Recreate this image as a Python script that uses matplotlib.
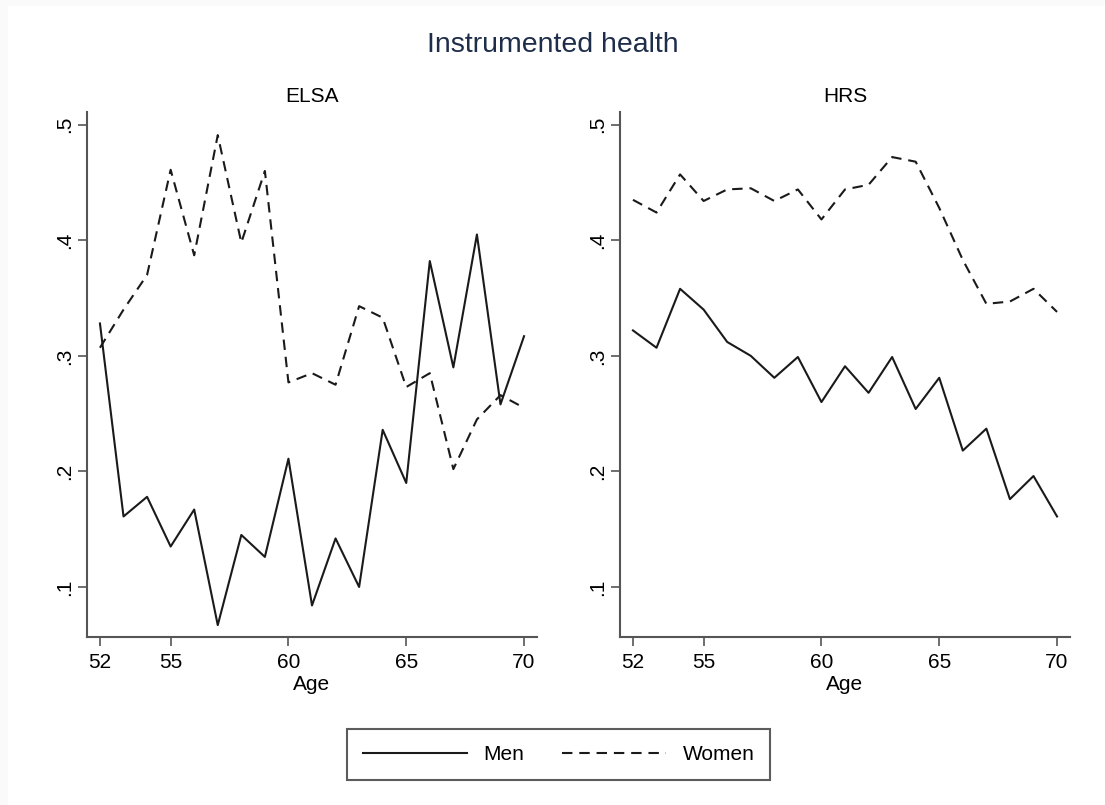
import matplotlib.pyplot as plt
from matplotlib.lines import Line2D
from matplotlib.patches import Rectangle

plt.rcParams['font.family'] = ['Liberation Sans', 'DejaVu Sans']

ages = list(range(52, 71))

elsa_men = [0.328, 0.161, 0.178, 0.135, 0.167, 0.067, 0.145, 0.126, 0.211, 0.084,
            0.142, 0.100, 0.236, 0.190, 0.382, 0.290, 0.405, 0.258, 0.317]
elsa_women = [0.307, 0.340, 0.370, 0.461, 0.387, 0.491, 0.398, 0.460, 0.277, 0.285,
              0.275, 0.343, 0.333, 0.273, 0.285, 0.202, 0.245, 0.266, 0.255]
hrs_men = [0.322, 0.307, 0.358, 0.340, 0.312, 0.300, 0.281, 0.299, 0.260, 0.291,
           0.268, 0.299, 0.254, 0.281, 0.218, 0.237, 0.176, 0.196, 0.161]
hrs_women = [0.435, 0.424, 0.457, 0.434, 0.444, 0.445, 0.434, 0.444, 0.418, 0.444,
             0.448, 0.472, 0.468, 0.428, 0.383, 0.345, 0.347, 0.358, 0.338]

panels = [("ELSA", elsa_men, elsa_women), ("HRS", hrs_men, hrs_women)]
x_ticks = [52, 55, 60, 65, 70]
y_ticks = [0.1, 0.2, 0.3, 0.4, 0.5]
y_labels = [".1", ".2", ".3", ".4", ".5"]

W, H = 1105, 805
fig = plt.figure(figsize=(W / 100, H / 100), dpi=100, facecolor='#fafafa')
fig.patches.append(Rectangle((8 / W, 0), 1, 1 - 6 / H, transform=fig.transFigure,
                             facecolor='white', edgecolor='none', zorder=-10))

line_col = '#1a1a1a'
spine_col = '#555555'
dash = (0, (5, 3.3))
fs = 15

ax_lefts = [87, 620]
for (name, men, women), left in zip(panels, ax_lefts):
    ax = fig.add_axes([left / W, 1 - 637 / H, 450 / W, 525 / H])
    ax.plot(ages, men, color=line_col, linewidth=1.5)
    ax.plot(ages, women, color=line_col, linewidth=1.5, linestyle=dash)
    ax.set_xlim(51.45, 70.55)
    ax.set_ylim(0.0567, 0.511)
    for s in ['top', 'right']:
        ax.spines[s].set_visible(False)
    for s in ['left', 'bottom']:
        ax.spines[s].set_color(spine_col)
        ax.spines[s].set_linewidth(1.5)
    ax.set_xticks(x_ticks)
    ax.set_yticks(y_ticks)
    ax.set_yticklabels(y_labels, rotation=90, va='center')
    ax.tick_params(axis='both', length=6.5, width=1.2, color=spine_col,
                   labelsize=fs, labelcolor='black')
    ax.tick_params(axis='x', pad=5)
    ax.tick_params(axis='y', pad=3)
    ax.set_xlabel("Age", fontsize=fs, labelpad=2)
    ax.set_title(name, fontsize=fs, pad=7)

fig.suptitle("Instrumented health", fontsize=20.5, color='#1e2d4a', y=1 - 45 / H, va='center')

handles = [Line2D([], [], color=line_col, linewidth=1.5),
           Line2D([], [], color=line_col, linewidth=1.5, linestyle=dash)]
leg = fig.legend(handles, ["Men", "Women"], loc='center', ncol=2,
                 bbox_to_anchor=(558.5 / W, 1 - 754.5 / H), fontsize=fs,
                 handlelength=5.0, handletextpad=0.8, columnspacing=1.8,
                 fancybox=False, frameon=True, borderpad=0.75)
leg.get_frame().set_edgecolor('#333333')
leg.get_frame().set_linewidth(1.5)

fig.savefig("out.png", dpi=100, facecolor=fig.get_facecolor())
